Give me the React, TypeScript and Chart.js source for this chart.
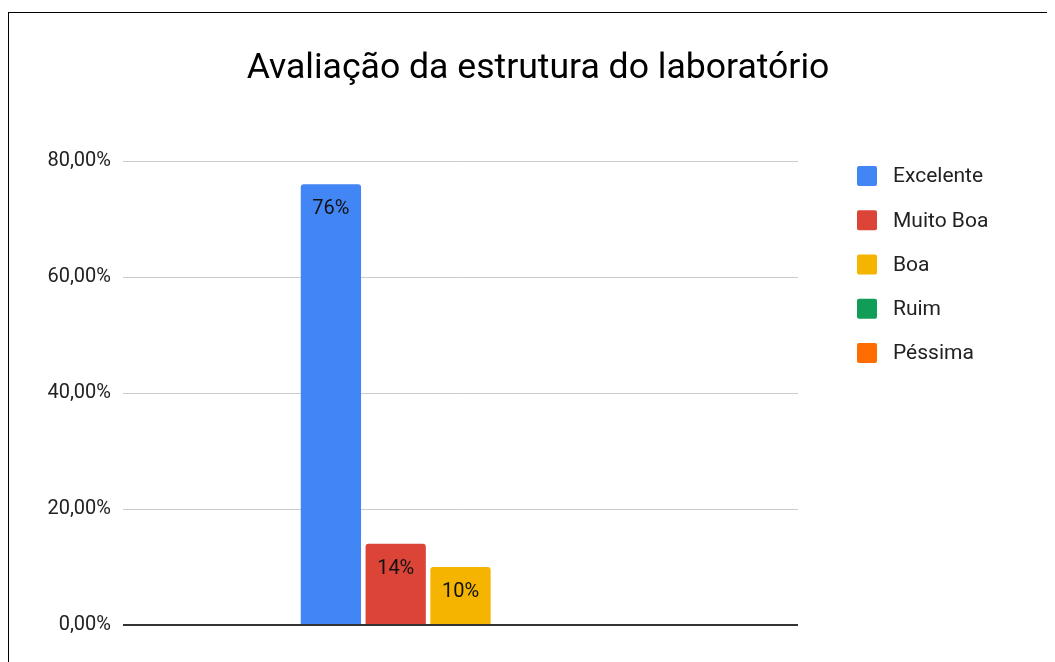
import React, { useEffect, useRef } from "react";
import { Chart, registerables } from "chart.js";

Chart.register(...registerables);

const titleText = "Avaliação da estrutura do laboratório";
const categories = [""];
const seriesNames = ["Excelente", "Muito Boa", "Boa", "Ruim", "Péssima"];
const seriesValues = [76, 14, 10, 0, 0];
const seriesColors = ["#4285F4", "#DB4437", "#F4B400", "#0F9D58", "#FF6D01"];
const yTicks = [0, 20, 40, 60, 80];

const FONT = "Roboto, 'Noto Sans', sans-serif";

const fmtTick = (v: number) => v.toFixed(2).replace(".", ",") + "%";

const overlayPlugin = {
  id: "overlay",
  afterDraw(chart: any) {
    const ctx = chart.ctx;
    ctx.save();
    // Title
    ctx.fillStyle = "#000";
    ctx.font = `35.6px ${FONT}`;
    ctx.textAlign = "center";
    ctx.textBaseline = "middle";
    ctx.fillText(titleText, 529, 56);
    // Data labels
    ctx.font = `20px ${FONT}`;
    ctx.fillStyle = "#111";
    chart.data.datasets.forEach((ds: any, i: number) => {
      const meta = chart.getDatasetMeta(i);
      meta.data.forEach((bar: any, j: number) => {
        const v = ds.data[j];
        if (!v) return;
        ctx.fillText(`${v}%`, bar.x, bar.y + 25);
      });
    });
    // Legend
    ctx.textAlign = "left";
    ctx.font = `21px ${FONT}`;
    chart.data.datasets.forEach((ds: any, i: number) => {
      const cy = 163 + i * 44.25;
      ctx.fillStyle = ds.backgroundColor;
      ctx.beginPath();
      (ctx as any).roundRect(848, cy - 10, 20, 20, 2);
      ctx.fill();
      ctx.fillStyle = "#222";
      ctx.fillText(ds.label, 884, cy + 1);
    });
    ctx.restore();
  },
};

export default function App() {
  const ref = useRef<HTMLCanvasElement>(null);
  useEffect(() => {
    document.body.style.overflow = "hidden";
    const chart = new Chart(ref.current!, {
      type: "bar",
      data: {
        labels: categories,
        datasets: seriesNames.map((name, i) => ({
          label: name,
          data: [seriesValues[i]],
          backgroundColor: seriesColors[i],
          borderRadius: { topLeft: 3, topRight: 3, bottomLeft: 0, bottomRight: 0 },
          borderSkipped: "bottom",
          barPercentage: 0.93,
          categoryPercentage: 0.48,
        })),
      },
      options: {
        animation: false,
        responsive: false,
        maintainAspectRatio: false,
        layout: { padding: { top: 148, left: 0, right: 311, bottom: 88 } },
        plugins: {
          legend: { display: false },
          title: { display: false },
          tooltip: { enabled: false },
        },
        scales: {
          x: {
            ticks: { display: false },
            grid: { display: false, drawTicks: false },
            border: { display: false },
            afterFit: (s: any) => {
              s.height = 0;
            },
          },
          y: {
            min: 0,
            max: 80,
            afterBuildTicks: (s: any) => {
              s.ticks = yTicks.map((v) => ({ value: v }));
            },
            afterFit: (s: any) => {
              s.width = 114;
            },
            ticks: {
              padding: 12,
              color: "#222",
              font: { family: FONT, size: 20 },
              callback: (v: any) => fmtTick(Number(v)),
            },
            grid: {
              drawTicks: false,
              color: (c: any) => (c.tick && c.tick.value === 0 ? "#333" : "#cccccc"),
              lineWidth: (c: any) => (c.tick && c.tick.value === 0 ? 2 : 1),
            },
            border: { display: false },
          },
        },
      },
      plugins: [overlayPlugin],
    });
    return () => chart.destroy();
  }, []);
  return (
    <div
      style={{
        marginTop: 4,
        width: 1100,
        height: 700,
        border: "1px solid #000",
        boxSizing: "content-box",
      }}
    >
      <canvas ref={ref} width={1100} height={700} style={{ display: "block" }} />
    </div>
  );
}
